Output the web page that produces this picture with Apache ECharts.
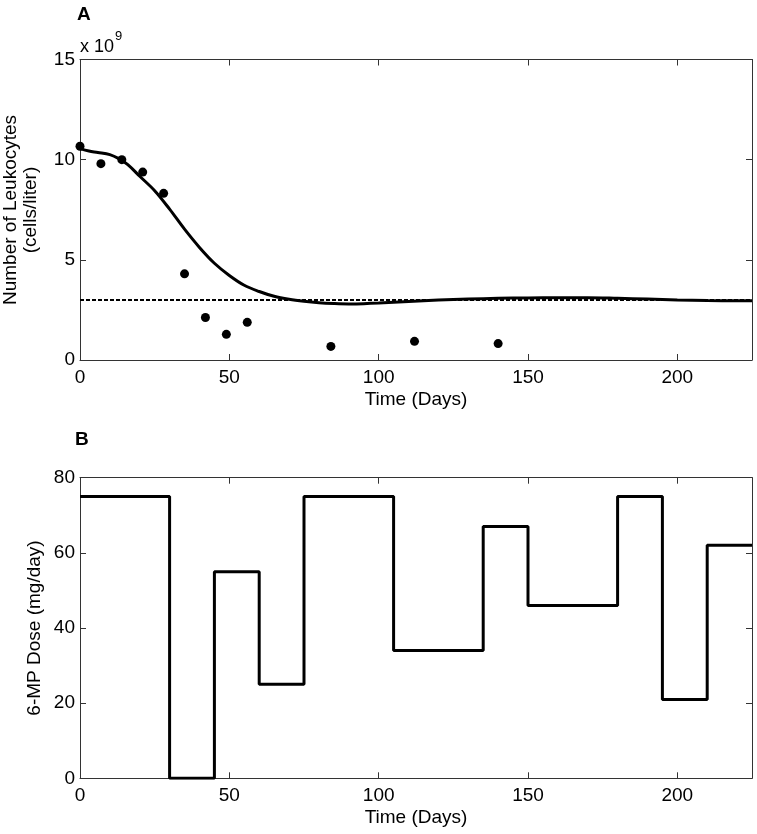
<!DOCTYPE html>
<html>
<head>
<meta charset="utf-8">
<script src="https://cdn.jsdelivr.net/npm/echarts@6/dist/echarts.min.js"></script>
<style>
html,body{margin:0;padding:0;background:#fff;}
#chart{width:757px;height:834px;}
</style>
</head>
<body>
<div id="chart"></div>
<script>
// Panel A: measured leukocyte counts (x 10^9 cells/liter)
const measDays = [0, 7, 14, 21, 28, 35, 42, 49, 56, 84, 112, 140];
const measLeuk = [10.67, 9.8, 10.0, 9.38, 8.32, 4.3, 2.12, 1.28, 1.88, 0.68, 0.93, 0.82];
// Panel A: model curve
const modelDays = [0, 3, 6, 10, 13, 16, 20, 25, 30, 35, 40, 45, 50, 55, 60, 65, 70, 75, 80, 85, 90, 95, 100, 110, 120, 130, 140, 150, 160, 170, 180, 190, 200, 210, 220, 225];
const modelLeuk = [10.55, 10.43, 10.36, 10.25, 10.05, 9.75, 9.17, 8.45, 7.53, 6.53, 5.62, 4.83, 4.22, 3.73, 3.42, 3.18, 3.03, 2.93, 2.86, 2.82, 2.8, 2.81, 2.84, 2.92, 2.99, 3.04, 3.08, 3.1, 3.11, 3.11, 3.08, 3.04, 3.0, 2.97, 2.96, 2.96];
// Panel A: threshold
const thresholdDays = [0, 225];
const thresholdLeuk = [3, 3];
// Panel B: 6-MP dose schedule (value holds until next change)
const doseDays = [0, 30, 45, 60, 75, 105, 135, 150, 180, 195, 210, 225];
const doseMg = [75, 0, 55, 25, 75, 34, 67, 46, 75, 21, 62, 62];

const font = 'Liberation Sans, Arial, Helvetica, sans-serif';
const axisCol = '#333';
const zip = (a, b) => a.map((v, i) => [v, b[i]]);

function xAx(grid, pos, show, name) {
  return {
    type: 'value', gridIndex: grid, position: pos, min: 0, max: 225, interval: 50,
    axisLine: {show: true, onZero: false, lineStyle: {color: axisCol, width: 1}},
    axisTick: {show: true, inside: true, length: 6, lineStyle: {color: axisCol}},
    axisLabel: {show: show, fontSize: 19, color: '#000', fontFamily: font, margin: 8, showMaxLabel: false},
    splitLine: {show: false},
    name: name || '', nameLocation: 'middle', nameGap: 30,
    nameTextStyle: {fontSize: 19, color: '#000', fontFamily: font}
  };
}
function yAx(grid, pos, show, max, interval) {
  return {
    type: 'value', gridIndex: grid, position: pos, min: 0, max: max, interval: interval,
    axisLine: {show: true, onZero: false, lineStyle: {color: axisCol, width: 1}},
    axisTick: {show: true, inside: true, length: 6, lineStyle: {color: axisCol}},
    axisLabel: {show: show, fontSize: 19, color: '#000', fontFamily: font, margin: 5},
    splitLine: {show: false}
  };
}

const chart = echarts.init(document.getElementById('chart'), null, {renderer: 'canvas'});
chart.setOption({
  animation: false,
  backgroundColor: '#fff',
  grid: [
    {left: 80, top: 59.5, width: 672, height: 300.5},
    {left: 80, top: 477.7, width: 672, height: 300.6}
  ],
  xAxis: [
    xAx(0, 'bottom', true, 'Time (Days)'),
    xAx(0, 'top', false),
    xAx(1, 'bottom', true, 'Time (Days)'),
    xAx(1, 'top', false)
  ],
  yAxis: [
    yAx(0, 'left', true, 15, 5),
    yAx(0, 'right', false, 15, 5),
    yAx(1, 'left', true, 80, 20),
    yAx(1, 'right', false, 80, 20)
  ],
  graphic: [
    {type: 'text', left: 77, top: 5, style: {text: 'A', fontSize: 19, fontWeight: 'bold', fill: '#000', fontFamily: font}},
    {type: 'text', left: 75, top: 430, style: {text: 'B', fontSize: 19, fontWeight: 'bold', fill: '#000', fontFamily: font}},
    {type: 'text', x: 80, y: 47, style: {text: 'x 10', fontSize: 18, fill: '#000', fontFamily: font, textVerticalAlign: 'middle'}},
    {type: 'text', x: 115, y: 36, style: {text: '9', fontSize: 13, fill: '#000', fontFamily: font, textVerticalAlign: 'middle'}},
    {type: 'text', x: 11, y: 210, rotation: Math.PI / 2, style: {text: 'Number of Leukocytes', fontSize: 19, fill: '#000', fontFamily: font, textAlign: 'center', textVerticalAlign: 'middle'}},
    {type: 'text', x: 31, y: 210, rotation: Math.PI / 2, style: {text: '(cells/liter)', fontSize: 19, fill: '#000', fontFamily: font, textAlign: 'center', textVerticalAlign: 'middle'}},
    {type: 'text', x: 35, y: 628, rotation: Math.PI / 2, style: {text: '6-MP Dose (mg/day)', fontSize: 19, fill: '#000', fontFamily: font, textAlign: 'center', textVerticalAlign: 'middle'}}
  ],
  series: [
    {
      type: 'line', xAxisIndex: 0, yAxisIndex: 0, data: zip(thresholdDays, thresholdLeuk),
      showSymbol: false, lineStyle: {color: '#000', width: 2, type: [4, 2]}, z: 2
    },
    {
      type: 'line', xAxisIndex: 0, yAxisIndex: 0, data: zip(modelDays, modelLeuk),
      smooth: 0.35, showSymbol: false, lineStyle: {color: '#000', width: 3}, z: 3
    },
    {
      type: 'scatter', xAxisIndex: 0, yAxisIndex: 0, data: zip(measDays, measLeuk),
      symbol: 'circle', symbolSize: 9, itemStyle: {color: '#000', opacity: 1}, z: 4
    },
    {
      type: 'line', xAxisIndex: 2, yAxisIndex: 2, data: zip(doseDays, doseMg),
      step: 'end', showSymbol: false, lineStyle: {color: '#000', width: 3}
    }
  ]
});
</script>
</body>
</html>
